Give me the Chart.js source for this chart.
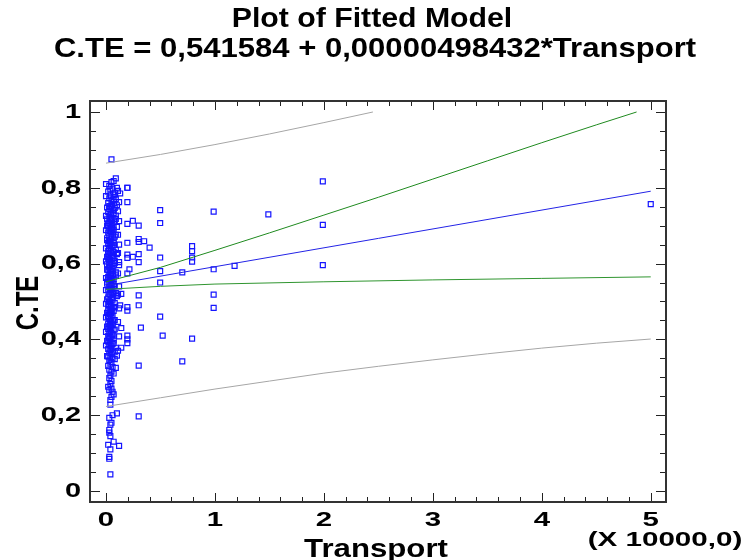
<!DOCTYPE html>
<html>
<head>
<meta charset="utf-8">
<script src="https://cdn.jsdelivr.net/npm/chart.js@4/dist/chart.umd.min.js"></script>
<style>
  html, body { margin: 0; padding: 0; background: #fff; }
  #plot { display: block; }
</style>
</head>
<body>
<canvas id="plot" width="743" height="560"></canvas>
<script>
// observed values (Transport in units of 10000, C.TE)
const transportValues = [
  0.05,0.09,0.05,0.03,0.10,0.06,0.02,0.08,0.13,0.04,0.07,0.03,0.09,0.05,0.02,0.06,0.10,0.04,0.08,0.03,
  0.05,0.02,0.07,0.04,0.09,0.03,0.06,0.01,0.05,0.08,0.03,0.04,0.06,0.02,0.10,0.05,0.03,0.07,0.04,0.02,
  0.06,0.09,0.03,0.05,0.01,0.04,0.07,0.03,0.05,0.02,0.08,0.04,0.06,0.03,0.05,0.02,0.07,0.04,0.10,0.03,
  0.05,0.06,0.02,0.04,0.08,0.03,0.05,0.01,0.07,0.04,0.03,0.06,0.02,0.05,0.09,0.04,0.03,0.06,0.02,0.05,
  0.07,0.04,0.03,0.06,0.01,0.05,0.08,0.03,0.04,0.06,0.02,0.05,0.07,0.03,0.04,0.10,0.02,0.05,0.06,0.03,
  0.04,0.08,0.02,0.05,0.03,0.06,0.04,0.02,0.07,0.05,0.03,0.04,0.06,0.02,0.05,0.03,0.08,0.04,0.05,0.02,
  0.06,0.03,0.04,0.05,0.02,0.07,0.04,0.03,0.05,0.06,0.02,0.04,0.03,0.05,0.07,0.02,0.04,0.06,0.03,0.05,
  0.09,0.02,0.04,0.06,0.03,0.05,0.10,0.02,0.04,0.06,0.08,0.03,0.05,0.04,0.02,0.06,0.09,0.03,0.05,0.07,
  0.04,0.03,0.05,0.04,0.02,0.05,0.03,0.06,0.07,0.05,0.04,0.04,0.10,0.06,0.03,0.05,0.04,0.03,0.03,0.04,
  0.07,0.02,0.12,0.04,0.03,0.03,0.04,
  0.00,0.11,0.00,0.12,0.01,0.11,0.00,0.12,0.01,0.00,0.11,0.01,0.12,0.00,0.11,0.01,0.00,0.12,0.01,0.11,
  0.00,0.01,0.12,0.00,0.11,0.01,0.00,0.12,0.01,0.00,0.11,0.01,0.00,0.12,0.01,0.00,0.11,0.01,
  0.07,0.04,0.08,0.06,0.03,0.07,0.05,0.09,0.02,0.07,0.05,0.08,0.03,0.06,0.09,0.02,0.06,0.08,0.03,0.06,
  0.09,0.02,0.07,0.04,0.09,0.06,0.03,0.08,0.05,0.02,0.07,0.04,0.08,0.06,0.03,0.07,0.05,0.08,0.06,0.04,
  0.05,0.03,0.07,0.04,0.06,0.05,0.04,0.06,0.05,0.04,0.06,0.05,0.03,0.07,0.04,
  0.12,0.13,0.14,0.14,0.14,0.196,0.196,0.196,0.196,0.196,0.196,0.196,0.196,0.196,0.196,0.196,0.196,0.196,
  0.215,0.246,0.246,0.30,0.30,0.30,0.30,0.30,0.30,0.30,0.30,0.30,0.32,0.35,0.40,
  0.497,0.497,0.497,0.497,0.497,0.497,0.52,0.70,0.70,0.79,0.79,0.79,0.79,0.79,
  0.988,0.988,0.988,0.988,1.18,1.49,1.99,1.99,1.99,5.0
];
const cteValues = [
  0.875,0.825,0.815,0.805,0.800,0.798,0.790,0.787,0.785,0.780,0.776,0.772,0.770,0.765,0.760,0.757,0.754,0.750,0.747,0.744,
  0.740,0.736,0.733,0.730,0.727,0.724,0.720,0.717,0.714,0.711,0.708,0.705,0.702,0.699,0.697,0.694,0.690,0.688,0.685,0.682,
  0.679,0.676,0.673,0.670,0.667,0.664,0.661,0.658,0.655,0.652,0.649,0.646,0.643,0.640,0.637,0.634,0.631,0.628,0.625,0.622,
  0.619,0.616,0.613,0.610,0.607,0.604,0.601,0.598,0.595,0.592,0.589,0.586,0.583,0.580,0.577,0.574,0.571,0.568,0.565,0.562,
  0.559,0.556,0.553,0.550,0.547,0.544,0.541,0.538,0.535,0.532,0.529,0.526,0.523,0.520,0.517,0.514,0.511,0.508,0.505,0.502,
  0.499,0.496,0.493,0.490,0.487,0.484,0.481,0.478,0.475,0.472,0.469,0.466,0.463,0.460,0.457,0.454,0.451,0.448,0.445,0.442,
  0.439,0.436,0.433,0.430,0.427,0.424,0.421,0.418,0.415,0.412,0.409,0.406,0.403,0.400,0.397,0.394,0.391,0.388,0.385,0.382,
  0.378,0.375,0.372,0.368,0.365,0.361,0.357,0.355,0.352,0.350,0.348,0.345,0.340,0.336,0.330,0.327,0.325,0.320,0.315,0.310,
  0.305,0.298,0.290,0.282,0.275,0.270,0.266,0.262,0.255,0.248,0.240,0.228,0.205,0.200,0.193,0.180,0.175,0.161,0.154,0.145,
  0.130,0.122,0.119,0.110,0.090,0.085,0.044,
  0.810,0.792,0.778,0.762,0.748,0.738,0.726,0.712,0.700,0.688,0.676,0.662,0.650,0.640,0.628,0.618,0.606,0.596,0.584,0.574,
  0.562,0.552,0.540,0.530,0.518,0.506,0.494,0.482,0.470,0.458,0.446,0.434,0.420,0.408,0.396,0.384,0.370,0.356,
  0.818,0.796,0.782,0.768,0.752,0.742,0.731,0.718,0.706,0.696,0.684,0.671,0.660,0.648,0.636,0.626,0.614,0.602,0.592,0.581,
  0.569,0.558,0.546,0.534,0.522,0.510,0.498,0.486,0.474,0.462,0.450,0.438,0.426,0.414,0.402,0.390,0.378,0.366,0.600,0.660,
  0.700,0.640,0.620,0.560,0.520,0.480,0.580,0.690,0.750,0.470,0.440,0.540,0.610,0.655,0.720,
  0.604,0.490,0.520,0.430,0.378,0.800,0.762,0.705,0.655,0.624,0.615,0.574,0.485,0.476,0.410,0.400,0.390,0.800,
  0.585,0.713,0.618,0.700,0.665,0.657,0.625,0.604,0.516,0.490,0.331,0.197,0.431,0.659,0.642,
  0.741,0.707,0.616,0.580,0.550,0.460,0.410,0.577,0.342,0.646,0.633,0.616,0.605,0.402,
  0.737,0.585,0.518,0.483,0.594,0.730,0.817,0.702,0.596,0.757
];

// fitted line and limits
const fitX = [0, 5];
const fitY = [0.542, 0.791];
const confUpperX = [0, 0.5, 1, 1.5, 2, 2.5, 3, 3.5, 4, 4.5, 4.87];
const confUpperY = [0.552, 0.590, 0.635, 0.681, 0.728, 0.775, 0.823, 0.871, 0.919, 0.966, 1.0];
const confLowerX = [0, 0.5, 1, 2, 3, 4, 5];
const confLowerY = [0.532, 0.540, 0.546, 0.552, 0.557, 0.561, 0.565];
const predUpperX = [0, 0.5, 1, 1.5, 2, 2.45];
const predUpperY = [0.865, 0.888, 0.914, 0.942, 0.972, 1.0];
const predLowerX = [0, 0.5, 1, 1.5, 2, 2.5, 3, 3.5, 4, 4.5, 5];
const predLowerY = [0.223, 0.246, 0.269, 0.290, 0.311, 0.329, 0.346, 0.362, 0.377, 0.390, 0.401];

const xTicks = [0, 1, 2, 3, 4, 5];
const xTickLabels = ["0", "1", "2", "3", "4", "5"];
const yTicks = [0, 0.2, 0.4, 0.6, 0.8, 1];
const yTickLabels = ["0", "0,2", "0,4", "0,6", "0,8", "1"];

function toPoints(xs, ys) {
  return xs.map((x, i) => ({ x: x, y: ys[i] }));
}

function lineSet(xs, ys, color) {
  return {
    data: toPoints(xs, ys),
    showLine: true,
    borderColor: color,
    borderWidth: 1,
    pointRadius: 0,
    tension: 0,
    fill: false,
  };
}

// text drawn wider than the font, like the original export
function wideText(ctx, text, x, y, size, sx, align) {
  ctx.save();
  ctx.translate(x, y);
  ctx.scale(sx, 1);
  ctx.font = "bold " + size + "px 'Liberation Sans', Arial, sans-serif";
  ctx.fillStyle = "#000";
  ctx.textAlign = align || "center";
  ctx.textBaseline = "middle";
  ctx.fillText(text, 0, 0);
  ctx.restore();
}

const framePlugin = {
  id: "frame",
  afterDraw(chart) {
    const ctx = chart.ctx;
    const a = chart.chartArea;
    const xs = chart.scales.x;
    const ys = chart.scales.y;

    ctx.save();
    ctx.strokeStyle = "#222";
    ctx.lineWidth = 1;
    // minor / major ticks pointing inwards on all four sides
    for (let i = 0; i <= 25; i++) {
      const v = i * 0.2;
      const px = Math.round(xs.getPixelForValue(v)) + 0.5;
      const len = i % 5 === 0 ? 9 : 5;
      ctx.beginPath();
      ctx.moveTo(px, a.bottom); ctx.lineTo(px, a.bottom - len);
      ctx.moveTo(px, a.top); ctx.lineTo(px, a.top + len);
      ctx.stroke();
    }
    for (let i = 0; i <= 20; i++) {
      const v = i * 0.05;
      const py = Math.round(ys.getPixelForValue(v)) + 0.5;
      const len = i % 4 === 0 ? 10 : 6;
      ctx.beginPath();
      ctx.moveTo(a.left, py); ctx.lineTo(a.left + len, py);
      ctx.moveTo(a.right, py); ctx.lineTo(a.right - len, py);
      ctx.stroke();
    }
    ctx.lineWidth = 2;
    ctx.strokeStyle = "#333";
    ctx.strokeRect(a.left, a.top, a.right - a.left, a.bottom - a.top);
    ctx.restore();

    xTicks.forEach((v, i) => {
      wideText(ctx, xTickLabels[i], xs.getPixelForValue(v), 520, 21, 1.4, "center");
    });
    yTicks.forEach((v, i) => {
      wideText(ctx, yTickLabels[i], 81, ys.getPixelForValue(v), 21, 1.38, "right");
    });

    wideText(ctx, "Plot of Fitted Model", 372, 20, 27, 1.12, "center");
    wideText(ctx, "C.TE = 0,541584 + 0,00000498432*Transport", 375, 50, 27, 1.15, "center");
    wideText(ctx, "Transport", 376, 550, 26, 1.2, "center");
    wideText(ctx, "(X 10000,0)", 665, 540, 20, 1.48, "center");

    ctx.save();
    ctx.translate(29, 303);
    ctx.scale(1.3, 1);
    ctx.rotate(-Math.PI / 2);
    ctx.font = "bold 24px 'Liberation Sans', Arial, sans-serif";
    ctx.fillStyle = "#000";
    ctx.textAlign = "center";
    ctx.textBaseline = "middle";
    ctx.fillText("C.TE", 0, 0);
    ctx.restore();
  },
};

const ctx = document.getElementById("plot").getContext("2d");
new Chart(ctx, {
  type: "scatter",
  data: {
    datasets: [
      lineSet(fitX, fitY, "#2323e6"),
      lineSet(confUpperX, confUpperY, "#1f8a1f"),
      lineSet(confLowerX, confLowerY, "#2f952f"),
      lineSet(predUpperX, predUpperY, "#a6a6a6"),
      lineSet(predLowerX, predLowerY, "#a6a6a6"),
      {
        data: toPoints(transportValues, cteValues),
        pointStyle: "rect",
        pointRadius: 3.5,
        borderColor: "#1515ff",
        backgroundColor: "rgba(0,0,0,0)",
        borderWidth: 1.2,
      },
    ],
  },
  options: {
    responsive: false,
    animation: false,
    devicePixelRatio: 1,
    layout: { padding: { top: 101, right: 77, left: 0, bottom: 0 } },
    plugins: {
      legend: { display: false },
      tooltip: { enabled: false },
      title: { display: false },
    },
    scales: {
      x: {
        type: "linear",
        min: -0.147,
        max: 5.14,
        grid: { display: false },
        border: { display: false },
        ticks: { display: false },
        afterFit: (s) => { s.height = 58; },
      },
      y: {
        type: "linear",
        min: -0.029,
        max: 1.029,
        grid: { display: false },
        border: { display: false },
        ticks: { display: false },
        afterFit: (s) => { s.width = 90; },
      },
    },
  },
  plugins: [framePlugin],
});
</script>
</body>
</html>
